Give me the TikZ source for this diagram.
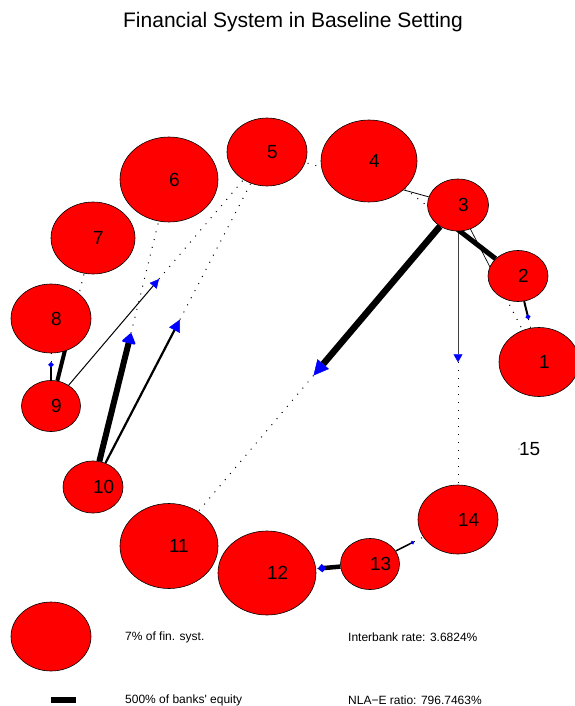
\documentclass[tikz,border=0pt]{standalone}
\usepackage{fontspec}
\setmainfont{Liberation Sans}[Ligatures=TeXOff]
\usetikzlibrary{shapes.geometric,arrows.meta,calc,backgrounds}
\tikzset{
  bank/.style={ellipse, draw=black, line width=0.6pt, fill=red, inner sep=0pt, font=\fontsize{19}{19}\selectfont},
  flow/.style={draw=black, line cap=butt},
  rest/.style={draw=black, line width=1pt, dash pattern=on 1pt off 7pt},
  legtext/.style={anchor=west, inner sep=0pt, font=\fontsize{12}{12}\selectfont},
}
\begin{document}
\begin{tikzpicture}[x=1pt,y=-1pt]
\useasboundingbox (0,0) rectangle (574,706);
\node[font=\fontsize{21}{21}\selectfont] (title) at (293,22) {Financial System in Baseline Setting};

% banks
\node[bank, minimum width=80pt, minimum height=69pt] (n1) at (539,362) {\rlap{1}};
\node[bank, minimum width=60pt, minimum height=51pt] (n2) at (518,276) {\rlap{2}};
\node[bank, minimum width=61pt, minimum height=52pt] (n3) at (458,205) {\rlap{3}};
\node[bank, minimum width=96pt, minimum height=82pt] (n4) at (369,161) {\rlap{4}};
\node[bank, minimum width=80pt, minimum height=68pt] (n5) at (267,152) {\rlap{5}};
\node[bank, minimum width=98pt, minimum height=85pt] (n6) at (169,179.5) {\rlap{6}};
\node[bank, minimum width=84pt, minimum height=72pt] (n7) at (93,238) {\rlap{7}};
\node[bank, minimum width=80pt, minimum height=69pt] (n8) at (51,318.5) {\rlap{8}};
\node[bank, minimum width=59pt, minimum height=51pt] (n9) at (51,406) {\rlap{9}};
\node[bank, minimum width=60pt, minimum height=52pt] (n10) at (93,487) {\rlap{10}};
\node[bank, minimum width=98pt, minimum height=85pt] (n11) at (169,546) {\rlap{11}};
\node[bank, minimum width=98pt, minimum height=84pt] (n12) at (267,573) {\rlap{12}};
\node[bank, minimum width=59pt, minimum height=51pt] (n13) at (370,564) {\rlap{13}};
\node[bank, minimum width=80pt, minimum height=69pt] (n14) at (458,519.5) {\rlap{14}};
\node[bank, draw=none, fill=none] (n15) at (519,449) {\rlap{15}};
\fill[black!80] (n15.center) circle (0.7pt);

% half-way points of the exposures
\coordinate (m3x11) at ($(n3)!.5!(n11)$);
\coordinate (m3x14) at ($(n3)!.5!(n14)$);
\coordinate (m3x1) at ($(n3)!.5!(n1)$);
\coordinate (m3x5) at ($(n3)!.5!(n5)$);
\coordinate (m2x4) at ($(n2)!.5!(n4)$);
\coordinate (m2x1) at ($(n2)!.5!(n1)$);
\coordinate (m9x5) at ($(n9)!.5!(n5)$);
\coordinate (m10x5) at ($(n10)!.5!(n5)$);
\coordinate (m10x6) at ($(n10)!.5!(n6)$);
\coordinate (m9x7) at ($(n9)!.5!(n7)$);
\coordinate (m9x8) at ($(n9)!.5!(n8)$);
\coordinate (m13x12) at ($(n13)!.5!(n12)$);
\coordinate (m13x14) at ($(n13)!.5!(n14)$);

\begin{pgfonlayer}{background}
\draw[flow, line width=6.5pt, -{Triangle[length=15pt,width=15pt,color=blue,line width=0.5pt]}] (n3) -- (m3x11);
\draw[rest] (m3x11) -- (n11);
\draw[flow, line width=0.9pt, draw=black!75, -{Triangle[length=8pt,width=9pt,color=blue,line width=0.5pt]}] (n3) -- (m3x14);
\draw[rest] (m3x14) -- (n14);
\draw[flow, line width=0.7pt, -{Triangle[length=6pt,width=6pt,color=blue]}] (n3) -- (m3x1);
\draw[rest] (m3x1) -- (n1);
\draw[flow, line width=0.8pt, -{Triangle[length=6pt,width=6pt,color=blue]}] (n3) -- (m3x5);
\draw[rest] (m3x5) -- (n5);
\draw[flow, line width=5pt, -{Triangle[length=10pt,width=10pt,color=blue]}] (n2) -- (m2x4);
\draw[rest] (m2x4) -- (n4);
\draw[flow, line width=2pt, -{Circle[length=4.5pt,color=blue]}] (n2) -- (m2x1);
\draw[rest] (m2x1) -- (n1);
\draw[flow, line width=1pt, -{Triangle[length=9pt,width=9pt,color=blue,line width=0.5pt]}] (n9) -- (m9x5);
\draw[rest] (m9x5) -- (n5);
\draw[flow, line width=2.2pt, -{Triangle[length=12pt,width=12pt,color=blue,line width=0.5pt]}] (n10) -- (m10x5);
\draw[rest] (m10x5) -- (n5);
\draw[flow, line width=6pt, -{Triangle[length=11pt,width=15pt,color=blue,line width=2pt,round]}] (n10) -- (m10x6);
\draw[rest] (m10x6) -- (n6);
\draw[flow, line width=4pt, -{Triangle[length=8pt,width=8pt,color=blue]}] (n9) -- (m9x7);
\draw[rest] (m9x7) -- (n7);
\draw[flow, line width=2pt, -{Circle[length=5pt,color=blue]}] (n9) -- (m9x8);
\draw[rest] (m9x8) -- (n8);
\draw[flow, line width=4.5pt, -{Circle[length=7pt,color=blue]}] (n13) -- (m13x12);
\draw[rest] (m13x12) -- (n12);
\draw[flow, line width=1.5pt, -{Circle[length=3.5pt,color=blue]}] (n13) -- (m13x14);
\draw[rest] (m13x14) -- (n14);
\end{pgfonlayer}

% legend
\node[bank, minimum width=80pt, minimum height=69pt] (legbank) at (51,636.5) {};
\coordinate (legA) at (51,700);
\coordinate (legB) at (76,700);
\draw[line width=6pt] (legA) -- (legB);
\node[legtext] (legsize) at (125,637) {7\% of fin. syst.};
\node[legtext] (legwidth) at (125,700) {500\% of banks' equity};
\node[legtext] (legrate) at (348,637) {Interbank rate: 3.6824\%};
\node[legtext] (legratio) at (348,700) {NLA−E ratio: 796.7463\%};
\end{tikzpicture}
\end{document}
